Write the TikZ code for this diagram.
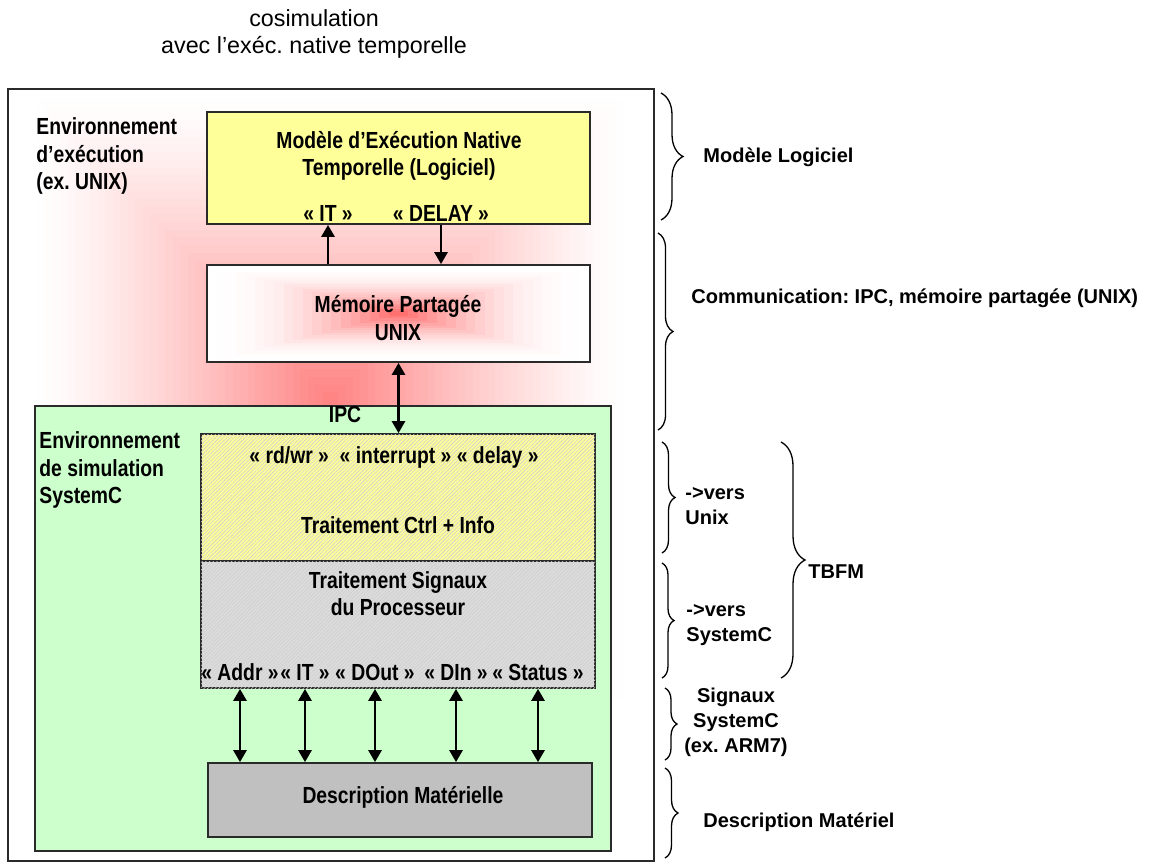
\documentclass[tikz,border=0pt]{standalone}
\usepackage{fontspec}
\setmainfont{Liberation Sans}
\newfontfamily\narrowfont{Liberation Sans}[FakeStretch=0.83]
\usetikzlibrary{arrows.meta,decorations.pathreplacing,patterns.meta}
\frenchspacing

\definecolor{softyellow}{HTML}{FFFF99}
\definecolor{softgreen}{HTML}{CCFFCC}
\definecolor{hwgray}{HTML}{C0C0C0}
\definecolor{siggray}{HTML}{DCDCDC}
\definecolor{boxline}{HTML}{2A2A2A}

\tikzset{
  box/.style={draw=boxline,line width=0.85pt,inner sep=0pt},
  hatched/.style={box,fill=#1,postaction={pattern={Lines[angle=45,distance=1.3pt,line width=0.3pt]},pattern color=black!19}},
  link/.style={line width=1.3pt,-{Triangle[length=6pt,width=6.5pt]}},
  biglink/.style={line width=1.3pt,{Triangle[length=6pt,width=6.5pt]}-{Triangle[length=6pt,width=6.5pt]}},
  curly/.style={decorate,decoration={brace,amplitude=#1},line width=0.65pt},
  side/.style={font=\bfseries\fontsize{10}{12.5}\selectfont,inner sep=0pt}
}

\begin{document}
\begin{tikzpicture}[x=0.5pt,y=-0.5pt,>=Stealth,
    every node/.style={font=\narrowfont\bfseries\fontsize{11.65}{13.6}\selectfont}]
  \useasboundingbox (0,0) rectangle (1149,863);
  \fill[white] (0,0) rectangle (1149,863);

  % pink glow behind the execution environment
  \begin{scope}
    \clip (8,89) rectangle (654,861);
    \foreach \k in {40,39,...,1} {
      \pgfmathsetmacro\tint{50*(1-\k/40)^1.3}
      \fill[red!\tint!white] (330-300*\k/40,400-310*\k/40) rectangle (330+300*\k/40,400+310*\k/40);
    }
  \end{scope}

  \node[box,minimum width=323pt,minimum height=386pt] (unixenv) at (331,475) {};
  \node[font=\fontsize{11.65}{13.5}\selectfont,align=center] (head) at (314,34)
    {cosimulation\\avec l’exéc. native temporelle};

  % software model
  \node[box,fill=softyellow,minimum width=191.5pt,minimum height=56pt] (model) at (398.5,168) {};
  \node[align=center] (modeltxt) at (399,156) {Modèle d’Exécution Native\\Temporelle (Logiciel)};
  \node (itlbl) at (328,213) {« IT »};
  \node (delaylbl) at (441,213) {« DELAY »};

  % shared memory
  \foreach \k in {20,19,...,1} {
    \pgfmathsetmacro\tint{62*(1-\k/20)^2}
    \fill[red!\tint!white] (398.5-191.5*\k/20,313.5-48.5*\k/20) rectangle (398.5+191.5*\k/20,313.5+48.5*\k/20);
  }
  \node[box,minimum width=191.5pt,minimum height=48.5pt] (mem) at (398.5,313.5) {};
  \node[align=center] (memtxt) at (398,318) {Mémoire Partagée\\UNIX};
  \node[align=left,anchor=west,inner sep=0pt] (unixtxt) at (36,156)
    {Environnement\\d’exécution\\(ex. UNIX)};

  % SystemC side
  \node[box,fill=softgreen,minimum width=288pt,minimum height=222.5pt] (sysc) at (323,628.5) {};
  \node (ipc) at (345,414) {IPC};
  \node[align=left,anchor=west,inner sep=0pt] (sysctxt) at (39,470)
    {Environnement\\de simulation\\SystemC};
  \node[hatched=softyellow,minimum width=197pt,minimum height=63.5pt] (ctrl) at (398,497.5) {};
  \node (ctrlsig) at (394,457) {« rd/wr »\ \ « interrupt » « delay »};
  \node (ctrltxt) at (398,525) {Traitement Ctrl + Info};
  \node[hatched=siggray,minimum width=197pt,minimum height=63.5pt] (sig) at (398,624.5) {};
  \node[align=center] (sigtxt) at (398,594) {Traitement Signaux\\du Processeur};
  \node[box,fill=hwgray,minimum width=192pt,minimum height=37pt] (hw) at (400,800) {};
  \node (hwtxt) at (403,797) {Description Matérielle};

  % links
  \draw[link] (mem.north -| itlbl) -- (model.south -| itlbl);
  \draw[link] (model.south -| delaylbl) -- (mem.north -| delaylbl);
  \draw[biglink] (mem.south) -- (mem.south |- ctrl.north);
  \foreach \x/\pin in {240/Addr,305/IT,375/DOut,456/DIn,538/Status} {
    \node (pin\pin) at (\x,672) {« \pin{} »};
    \draw[biglink] (sig.south -| pin\pin) -- (hw.north -| pin\pin);
  }

  % braces on the right
  \coordinate (b1t) at (661,93);   \coordinate (b1b) at (661,220);
  \coordinate (b2t) at (658,233);  \coordinate (b2b) at (658,430);
  \coordinate (b3t) at (662,442);  \coordinate (b3b) at (662,553);
  \coordinate (b4t) at (662,563);  \coordinate (b4b) at (662,678);
  \coordinate (b5t) at (781,442);  \coordinate (b5b) at (781,678);
  \coordinate (b6t) at (665,688);  \coordinate (b6b) at (665,760);
  \coordinate (b7t) at (665,768);  \coordinate (b7b) at (665,858);
  \draw[curly=11pt] (b1t) -- (b1b);
  \draw[curly=7.5pt] (b2t) -- (b2b);
  \draw[curly=6.5pt] (b3t) -- (b3b);
  \draw[curly=6pt] (b4t) -- (b4b);
  \draw[curly=12pt] (b5t) -- (b5b);
  \draw[curly=6pt] (b6t) -- (b6b);
  \draw[curly=6.5pt] (b7t) -- (b7b);

  \node[side,anchor=west] (swlbl) at (703,157) {Modèle Logiciel};
  \node[side,anchor=west] (comlbl) at (691,298) {Communication: IPC, mémoire partagée (UNIX)};
  \node[side,anchor=west,align=left] (unixlbl) at (685,506) {{-}>vers\\Unix};
  \node[side,anchor=west,align=left] (sysclbl) at (686,625) {{-}>vers\\SystemC};
  \node[side,anchor=west] (tbfm) at (808,572) {TBFM};
  \node[side,align=center] (armlbl) at (736,722) {Signaux\\SystemC\\(ex. ARM7)};
  \node[side,anchor=west] (hwlbl) at (703,822) {Description Matériel};
\end{tikzpicture}
\end{document}
